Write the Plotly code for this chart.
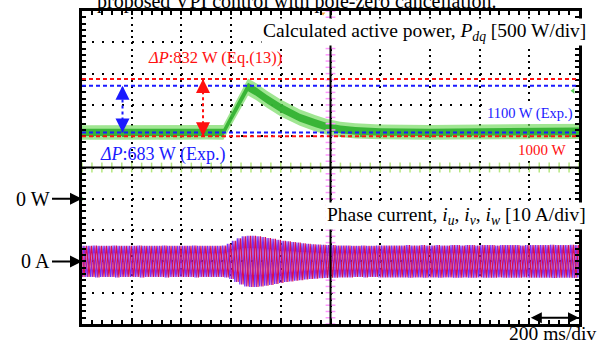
import numpy as np
import plotly.graph_objects as go

# ---------------- data ----------------
# time base: 200 ms/div, 10 div
x_range_ms = [0, 2000]
# power axis: 500 W/div, 0 W marker 4 div from bottom
p_range_W = [-2000, 3000]
# current axis: 10 A/div, 0 A marker 2 div from bottom
i_range_A = [-20, 80]

power_time_ms = [0, 100, 200, 300, 400, 500, 569, 600, 630, 668, 700, 744, 800,
                 877, 940, 986, 1040, 1100, 1200, 1300, 1400, 1500, 1600, 1700,
                 1800, 1900, 2000]
power_center_W = [1060, 1058, 1062, 1060, 1060, 1062, 1062, 1290, 1510, 1785,
                  1715, 1590, 1450, 1295, 1205, 1150, 1110, 1085, 1068, 1062,
                  1062, 1065, 1068, 1070, 1072, 1075, 1078]
power_halfband_W = [115, 115, 115, 115, 115, 115, 118, 125, 130, 135, 135, 135,
                    135, 130, 128, 125, 122, 120, 118, 118, 118, 118, 120, 120,
                    122, 122, 122]

# peak phase-current amplitude of each 20 ms cycle (A)
current_cycle_amp_A = [
    5.0, 5.0, 5.1, 5.0, 5.0, 5.0, 5.1, 5.0, 5.0, 5.0,
    5.0, 5.1, 5.0, 5.0, 5.0, 5.0, 5.1, 5.0, 5.0, 5.0,
    5.0, 5.0, 5.1, 5.0, 5.0, 5.0, 5.0, 5.0, 5.1, 5.6,
    6.6, 7.4, 8.0, 8.2, 8.2, 8.0, 7.8, 7.5, 7.2, 6.9,
    6.6, 6.4, 6.2, 6.0, 5.8, 5.6, 5.5, 5.4, 5.3, 5.2,
    5.2, 5.1, 5.1, 5.1, 5.0, 5.0, 5.1, 5.0, 5.0, 5.1,
    5.1, 5.1, 5.1, 5.1, 5.1, 5.2, 5.1, 5.1, 5.2, 5.1,
    5.1, 5.2, 5.1, 5.1, 5.2, 5.2, 5.1, 5.2, 5.2, 5.1,
    5.2, 5.2, 5.2, 5.1, 5.2, 5.2, 5.2, 5.2, 5.1, 5.2,
    5.2, 5.2, 5.2, 5.2, 5.3, 5.2, 5.2, 5.2, 5.3, 5.2,
]
cycle_ms = 20
phase_names = ["i_u", "i_v", "i_w"]
phase_offset_ms = [0.0, 6.67, 13.33]
phase_colors = ["#6a38ff", "#a81ec0", "#d8104c"]

ref_red_W = [1000, 1915]     # 1000 W and Eq.(13) level
ref_blue_W = [1060, 1805]    # measured levels
arrow_blue_ms = 163
arrow_red_ms = 487

FONT = "Liberation Serif, Times New Roman, serif"

fig = go.Figure()

# ---------------- power trace (noisy band) ----------------
pc = np.array(power_center_W, float)
hb = np.array(power_halfband_W, float)
fig.add_trace(go.Scatter(x=power_time_ms, y=pc + hb, mode="lines",
                         line=dict(width=0, color="rgba(0,0,0,0)"), hoverinfo="skip"))
fig.add_trace(go.Scatter(x=power_time_ms, y=pc - hb, mode="lines", fill="tonexty",
                         fillcolor="rgba(120,220,100,0.7)",
                         line=dict(width=0, color="rgba(0,0,0,0)"), hoverinfo="skip"))
fig.add_trace(go.Scatter(x=power_time_ms, y=pc + 0.5 * hb, mode="lines",
                         line=dict(width=0, color="rgba(0,0,0,0)"), hoverinfo="skip"))
fig.add_trace(go.Scatter(x=power_time_ms, y=pc - 0.5 * hb, mode="lines", fill="tonexty",
                         fillcolor="rgba(45,175,45,0.9)",
                         line=dict(width=0, color="rgba(0,0,0,0)"), hoverinfo="skip"))

# ---------------- phase currents ----------------
amps = np.array(current_cycle_amp_A)
n = len(amps)
for name, off, col in zip(phase_names, phase_offset_ms, phase_colors):
    xs, ys = [], []
    for k in range(-1, n + 1):
        a = amps[min(max(k, 0), n - 1)]
        xs += [k * cycle_ms + off + 5, k * cycle_ms + off + 15]
        ys += [a, -a]
    fig.add_trace(go.Scatter(x=xs, y=ys, yaxis="y2", mode="lines", name=name,
                             line=dict(width=1.1, color=col), hoverinfo="skip"))

# ---------------- reference levels ----------------
for v in ref_red_W:
    fig.add_shape(type="line", xref="paper", x0=0, x1=1, yref="y", y0=v, y1=v,
                  line=dict(color="#ff1010", width=2, dash="4px,3px"))
for v in ref_blue_W:
    fig.add_shape(type="line", xref="paper", x0=0, x1=1, yref="y", y0=v, y1=v,
                  line=dict(color="#1a1aff", width=2, dash="4px,3px"))

# double arrows
for t, lv, col in [(arrow_blue_ms, ref_blue_W, "#1a1aff"), (arrow_red_ms, ref_red_W, "#ff1010")]:
    fig.add_shape(type="line", xref="x", x0=t, x1=t, yref="y", y0=lv[0], y1=lv[1],
                  line=dict(color=col, width=2, dash="3px,3px"))
    fig.add_annotation(x=t, y=lv[1], xref="x", yref="y", ax=0, ay=11, text="",
                       showarrow=True, arrowhead=2, arrowsize=1.4, arrowwidth=2, arrowcolor=col)
    fig.add_annotation(x=t, y=lv[0], xref="x", yref="y", ax=0, ay=-11, text="",
                       showarrow=True, arrowhead=2, arrowsize=1.4, arrowwidth=2, arrowcolor=col)

# ---------------- centre cross-hair ----------------
fig.add_shape(type="line", xref="x", x0=1000, x1=1000, yref="paper", y0=0, y1=1,
              line=dict(color="black", width=2))
fig.add_shape(type="line", xref="paper", x0=0, x1=1, yref="y", y0=500, y1=500,
              line=dict(color="black", width=2))
fig.add_trace(go.Scatter(x=np.arange(0, 2001, 40), y=[500] * 51, mode="markers",
                         marker=dict(symbol="line-ns-open", size=7, line=dict(width=1.5, color="black")),
                         hoverinfo="skip"))
fig.add_trace(go.Scatter(x=[1000] * 51, y=np.arange(-2000, 3001, 100), mode="markers",
                         marker=dict(symbol="line-ew-open", size=7, line=dict(width=1.5, color="black")),
                         hoverinfo="skip"))

# channel markers
fig.add_trace(go.Scatter(x=[0], y=[0], mode="markers", cliponaxis=False,
                         marker=dict(symbol="triangle-right", size=5, color="#55dd55"), hoverinfo="skip"))
fig.add_trace(go.Scatter(x=[1976], y=[1725], mode="markers", cliponaxis=False,
                         marker=dict(symbol="triangle-left", size=5, color="#55cc55"), hoverinfo="skip"))
fig.add_trace(go.Scatter(x=[970], y=[2960], mode="markers", cliponaxis=False,
                         marker=dict(symbol="triangle-down", size=4, color="#f0a040"), hoverinfo="skip"))

# ---------------- texts ----------------
def txt(text, x, y, size, color="black", xanchor="center", bg=None):
    fig.add_annotation(text=text, xref="paper", yref="paper", x=x, y=y, showarrow=False,
                       xanchor=xanchor, yanchor="middle", bgcolor=bg, borderpad=1,
                       font=dict(family=FONT, size=size, color=color))

txt("proposed VPI control with pole-zero cancellation.", 0.4316, 1.031, 20)
txt("Calculated active power, <i>P</i><sub><i>dq</i></sub> [500 W/div]", 1.018, 0.933, 19.5,
    xanchor="right", bg="white")
txt("Phase current, <i>i</i><sub><i>u</i></sub>, <i>i</i><sub><i>v</i></sub>, "
    "<i>i</i><sub><i>w</i></sub> [10 A/div]", 1.018, 0.345, 19.5, xanchor="right", bg="white")
txt("<i>ΔP</i>:832 W (Eq.(13))", 0.2666, 0.853, 16.5, color="#ff1010")
txt("<i>ΔP</i>:683 W (Exp.)", 0.162, 0.543, 18, color="#1a1aff")
txt("1100 W (Exp.)", 0.901, 0.671, 14.5, color="#1a1aff", bg="white")
txt("1000 W", 0.9246, 0.556, 15, color="#ff1010", bg="white")
txt("200 ms/div", 0.946, -0.029, 19.5)

# 0 W / 0 A markers
fig.add_annotation(text="0 W", x=0, y=0, xref="x", yref="y", ax=-30, ay=0,
                   xanchor="right", showarrow=True, arrowhead=2, arrowsize=1.2, arrowwidth=2,
                   arrowcolor="black", font=dict(family=FONT, size=20, color="black"))
fig.add_annotation(text="0 A", x=0, y=0, xref="x", yref="y2", ax=-30, ay=0,
                   xanchor="right", showarrow=True, arrowhead=2, arrowsize=1.2, arrowwidth=2,
                   arrowcolor="black", font=dict(family=FONT, size=20, color="black"))

# time scale bar
fig.add_annotation(text="", x=2000, y=-1900, xref="x", yref="y", ax=1800, ay=-1900,
                   axref="x", ayref="y", showarrow=True, arrowhead=2, arrowside="end+start",
                   arrowsize=1.1, arrowwidth=2, arrowcolor="black")

# ---------------- axes / layout ----------------
fig.update_layout(
    width=606, height=342, margin=dict(l=82, r=27, t=11, b=18, autoexpand=False),
    paper_bgcolor="white", plot_bgcolor="white", showlegend=False,
    xaxis=dict(range=x_range_ms, dtick=200, tick0=0, showgrid=True, gridcolor="black",
               gridwidth=2, griddash="2px,4.26px", showline=True, linecolor="black",
               linewidth=2.5, mirror="allticks", ticks="inside", ticklen=4, tickwidth=1.5,
               tickcolor="black", showticklabels=False, zeroline=False,
               minor=dict(dtick=40, ticks="inside", ticklen=4, tickwidth=1.5,
                          tickcolor="black", showgrid=False)),
    yaxis=dict(range=p_range_W, dtick=500, tick0=0, showgrid=True, gridcolor="black",
               gridwidth=2, griddash="2px,7.94px", showline=True, linecolor="black",
               linewidth=2.5, mirror="allticks", ticks="inside", ticklen=4, tickwidth=1.5,
               tickcolor="black", showticklabels=False, zeroline=False,
               minor=dict(dtick=100, ticks="inside", ticklen=4, tickwidth=1.5,
                          tickcolor="black", showgrid=False)),
    yaxis2=dict(range=i_range_A, overlaying="y", visible=False),
)

fig.write_html("out.html", config={"displayModeBar": False},
               post_script="document.body.style.margin='0px';document.body.style.overflow='hidden';")
